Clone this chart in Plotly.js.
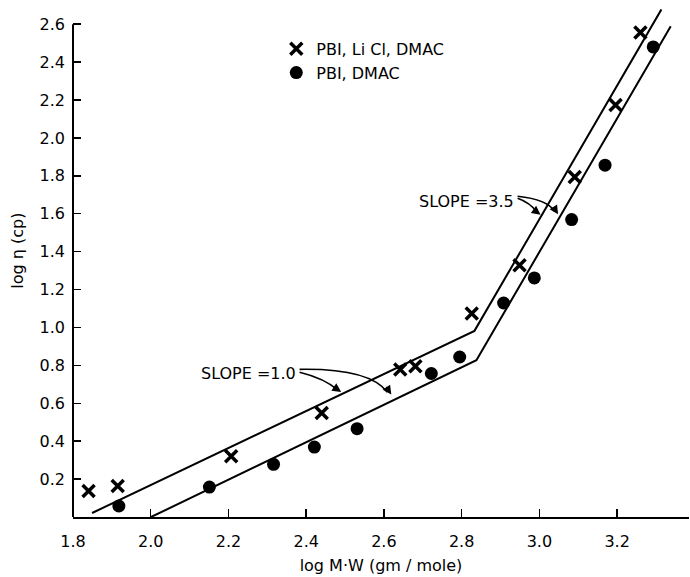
<!DOCTYPE html>
<html>
<head>
<meta charset="utf-8">
<script src="https://cdn.plot.ly/plotly-3.0.1.min.js"></script>
<style>html,body{margin:0;padding:0;background:#fff;}#chart{width:690px;height:577px;}</style>
</head>
<body>
<div id="chart"></div>
<script>
// Data
var licl_x = [1.840, 1.915, 2.207, 2.440, 2.642, 2.681, 2.826, 2.949, 3.091, 3.196, 3.260];
var licl_y = [0.137, 0.164, 0.320, 0.549, 0.778, 0.795, 1.073, 1.328, 1.794, 2.173, 2.556];
var dmac_x = [1.918, 2.151, 2.316, 2.421, 2.531, 2.722, 2.795, 2.908, 2.987, 3.083, 3.169, 3.293];
var dmac_y = [0.058, 0.158, 0.278, 0.369, 0.466, 0.757, 0.844, 1.129, 1.261, 1.569, 1.856, 2.480];
var upperLine_x = [1.849, 2.833, 3.314];
var upperLine_y = [0.021, 0.982, 2.678];
var lowerLine_x = [2.001, 2.838, 3.338];
var lowerLine_y = [0.000, 0.827, 2.589];
var xTicks = [1.8, 2.0, 2.2, 2.4, 2.6, 2.8, 3.0, 3.2];
var xTickText = ["1.8", "2.0", "2.2", "2.4", "2.6", "2.8", "3.0", "3.2"];
var yTicks = [0.2, 0.4, 0.6, 0.8, 1.0, 1.2, 1.4, 1.6, 1.8, 2.0, 2.2, 2.4, 2.6];
var yTickText = ["0.2", "0.4", "0.6", "0.8", "1.0", "1.2", "1.4", "1.6", "1.8", "2.0", "2.2", "2.4", "2.6"];
var seriesNames = ["PBI, Li Cl, DMAC", "PBI, DMAC"];

var FONT = "DejaVu Sans, Liberation Sans, sans-serif";

var traces = [
  {x: upperLine_x, y: upperLine_y, mode: "lines", line: {color: "#000", width: 2}, showlegend: false, hoverinfo: "skip"},
  {x: lowerLine_x, y: lowerLine_y, mode: "lines", line: {color: "#000", width: 2}, showlegend: false, hoverinfo: "skip"},
  {x: licl_x, y: licl_y, mode: "markers", name: seriesNames[0], cliponaxis: false,
   marker: {symbol: "x-thin", size: 12, color: "#000", line: {color: "#000", width: 3.5}}},
  {x: dmac_x, y: dmac_y, mode: "markers", name: seriesNames[1], cliponaxis: false,
   marker: {symbol: "circle", size: 13, color: "#000"}}
];

function arrowHead(x, y, ax, ay) {
  return {x: x, y: y, xref: "x", yref: "y", ax: ax, ay: ay, text: "", showarrow: true,
          arrowhead: 2, arrowsize: 1.1, arrowwidth: 1.6, arrowcolor: "#000", standoff: 0};
}

var layout = {
  width: 690, height: 577,
  margin: {l: 73, r: 1, t: 9, b: 60},
  paper_bgcolor: "#fff", plot_bgcolor: "#fff",
  font: {family: FONT, color: "#000", size: 16},
  showlegend: true,
  legend: {x: 0.33, y: 0.955, xanchor: "left", yanchor: "top", bgcolor: "rgba(0,0,0,0)",
           font: {family: FONT, size: 16, color: "#000"}, itemwidth: 30, tracegroupgap: 0},
  xaxis: {
    range: [1.8, 3.385], showgrid: false, zeroline: false,
    showline: true, linecolor: "#000", linewidth: 2,
    ticks: "inside", ticklen: 8, tickwidth: 1.5, tickcolor: "#000",
    tickvals: xTicks, ticktext: xTickText, ticklabelstandoff: 9,
    tickfont: {family: FONT, size: 16, color: "#000"},
    title: {text: "log M·W (gm / mole)", font: {family: FONT, size: 16, color: "#000"}, standoff: 10}
  },
  yaxis: {
    range: [0, 2.68], showgrid: false, zeroline: false,
    showline: false,
    ticks: "inside", ticklen: 8, tickwidth: 1.5, tickcolor: "#000",
    tickvals: yTicks, ticktext: yTickText, ticklabelstandoff: 7,
    tickfont: {family: FONT, size: 16, color: "#000"}
  },
  shapes: [
    {type: "line", xref: "paper", yref: "y", x0: 0, x1: 0, y0: 0, y1: 2.6, line: {color: "#000", width: 2}},
    {type: "path", xref: "x", yref: "y", path: "M 2.383,0.764 Q 2.447,0.732 2.483,0.668", line: {color: "#000", width: 1.6}},
    {type: "path", xref: "x", yref: "y", path: "M 2.383,0.779 Q 2.563,0.785 2.609,0.658", line: {color: "#000", width: 1.6}},
    {type: "path", xref: "x", yref: "y", path: "M 2.944,1.682 Q 2.975,1.660 2.995,1.607", line: {color: "#000", width: 1.6}},
    {type: "path", xref: "x", yref: "y", path: "M 2.944,1.692 Q 3.021,1.675 3.039,1.613", line: {color: "#000", width: 1.6}}
  ],
  annotations: [
    {x: 2.378, y: 0.758, xref: "x", yref: "y", xanchor: "right", yanchor: "middle", text: "SLOPE =1.0", showarrow: false,
     font: {family: FONT, size: 16, color: "#000"}},
    {x: 2.941, y: 1.665, xref: "x", yref: "y", xanchor: "right", yanchor: "middle", text: "SLOPE =3.5", showarrow: false,
     font: {family: FONT, size: 16, color: "#000"}},
    arrowHead(2.490, 0.660, -9, -6),
    arrowHead(2.619, 0.646, -6, -9),
    arrowHead(3.003, 1.595, -8, -6),
    arrowHead(3.048, 1.597, -5, -8),
    {xref: "paper", yref: "paper", x: -0.0902, y: 0.525, xanchor: "center", yanchor: "middle",
     text: "log η (cp)", textangle: -90, showarrow: false, font: {family: FONT, size: 16, color: "#000"}}
  ]
};

Plotly.newPlot("chart", traces, layout, {displayModeBar: false, staticPlot: true});
</script>
</body>
</html>
